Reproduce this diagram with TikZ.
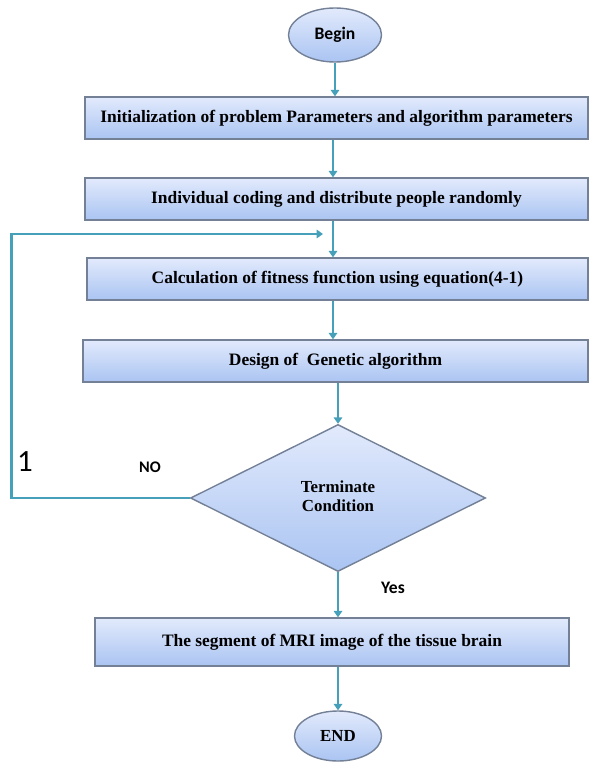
\documentclass[tikz,border=0pt]{standalone}
\usepackage{fontspec}
\setmainfont{Liberation Serif}
\newfontfamily\calfont{Carlito}
\usetikzlibrary{shapes.geometric, arrows.meta, positioning}
\definecolor{flowTeal}{RGB}{70,160,185}
\definecolor{boxEdge}{RGB}{115,128,150}
\definecolor{boxTop}{RGB}{226,234,252}
\definecolor{boxBottom}{RGB}{170,196,242}

\begin{document}
\begin{tikzpicture}[
    x=0.025cm, y=-0.025cm,
    process/.style={draw=boxEdge, line width=1pt, top color=boxTop, bottom color=boxBottom, minimum height=1.05cm, inner sep=0pt, font=\fontsize{12.4}{14}\selectfont\bfseries, align=center},
    terminal/.style={ellipse, draw=boxEdge, line width=1pt, top color=boxTop, bottom color=boxBottom, inner sep=0pt},
    decision/.style={diamond, draw=boxEdge, line width=1pt, top color=boxTop, bottom color=boxBottom, inner sep=0pt, minimum width=7.375cm, minimum height=3.675cm, font=\fontsize{12}{13.5}\selectfont\bfseries},
    arrow/.style={-{Triangle[width=6pt,length=4.5pt]}, line width=2pt, color=flowTeal}
]
\useasboundingbox (0,0) rectangle (588,762);

\node[terminal, minimum width=2.325cm, minimum height=1.35cm, font=\calfont\fontsize{12.5}{14}\selectfont\bfseries] (begin) at (335,35) {Begin};
\node[process, minimum width=12.575cm] (init) at (336.5,118) {Initialization of problem Parameters and algorithm parameters};
\node[process, minimum width=12.575cm] (code) at (336.5,199) {Individual coding and distribute people randomly};
\node[process, minimum width=12.525cm] (fit) at (337.5,279) {Calculation of fitness function using equation(4-1)};
\node[process, minimum width=12.625cm] (ga) at (335.5,361) {Design of \ Genetic algorithm};
\node[decision] (term) at (338,498) {\raisebox{6pt}{\begin{tabular}{@{}c@{}}Terminate\\Condition\end{tabular}}};
\node[process, minimum width=11.85cm, minimum height=1.2cm] (seg) at (332,642) {The segment of MRI image of the tissue brain};
\node[terminal, minimum width=2.175cm, minimum height=1.25cm, font=\fontsize{12}{13}\selectfont\bfseries] (end) at (338,736) {END};

\node[font=\calfont\fontsize{11.5}{13}\selectfont\bfseries] (no) at (150,467) {NO};
\node[font=\calfont\fontsize{12.5}{14}\selectfont\bfseries] (yes) at (393,588) {Yes};
\node[font=\calfont\fontsize{22}{24}\selectfont] (one) at (25,462) {1};

\coordinate (back) at (323,234);

\draw[arrow] (begin) -- (begin |- init.north);
\draw[arrow] (init.south -| 333,0) -- (code.north -| 333,0);
\draw[arrow] (code.south -| 333,0) -- (fit.north -| 333,0);
\draw[arrow] (fit.south -| 333,0) -- (ga.north -| 333,0);
\draw[arrow] (ga.south -| term) -- (term.north);
\draw[arrow] (term.south) -- (term.south |- seg.north);
\draw[arrow] (seg.south -| end) -- (end.north);
\draw[arrow] (term.west) -- ++(-178,0) |- (back);
\end{tikzpicture}
\end{document}
